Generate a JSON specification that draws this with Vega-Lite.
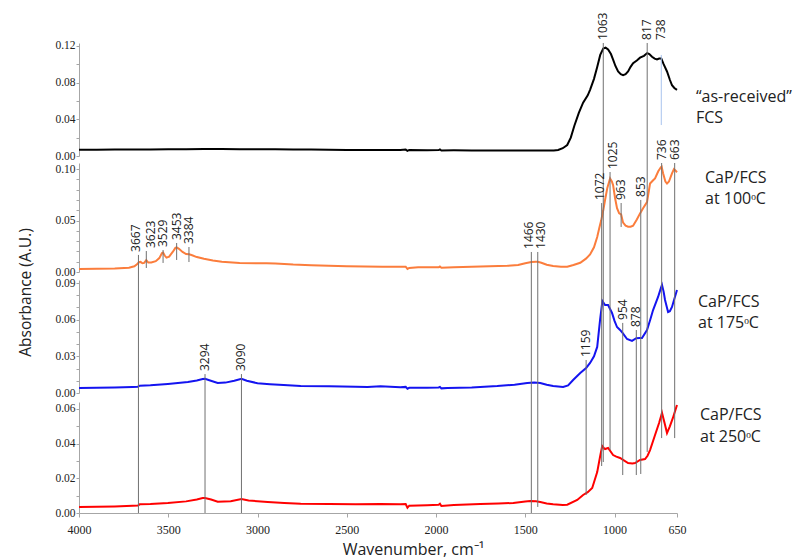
{
  "$schema": "https://vega.github.io/schema/vega-lite/v6.json",
  "width": 598,
  "height": 473,
  "autosize": "none",
  "padding": {"left": 79, "top": 40, "right": 131, "bottom": 45},
  "background": "white",
  "config": {
    "view": {"stroke": null},
    "font": "Open Sans",
    "axis": {
      "grid": false,
      "domainColor": "#a6a6a6",
      "tickColor": "#a6a6a6",
      "labelFont": "Liberation Sans Narrow",
      "labelFontSize": 12,
      "labelColor": "#222222",
      "labelOverlap": false,
      "labelFlush": false
    },
    "axisY": {"labelFontSize": 11.5}
  },
  "datasets": {
    "black": [
      {"wn":4000,"a":0.0068},{"wn":3900,"a":0.0069},{"wn":3800,"a":0.0070},{"wn":3700,"a":0.0071},{"wn":3600,"a":0.0072},{"wn":3500,"a":0.0073},{"wn":3400,"a":0.0074},{"wn":3300,"a":0.0075},{"wn":3200,"a":0.0075},{"wn":3100,"a":0.0074},{"wn":3000,"a":0.0074},{"wn":2900,"a":0.0073},{"wn":2800,"a":0.0072},{"wn":2700,"a":0.0070},{"wn":2600,"a":0.0068},{"wn":2500,"a":0.0066},{"wn":2400,"a":0.0065},{"wn":2300,"a":0.0064},{"wn":2200,"a":0.0066},{"wn":2170,"a":0.0070},{"wn":2160,"a":0.0056},{"wn":2150,"a":0.0066},{"wn":2050,"a":0.0063},{"wn":1985,"a":0.0064},{"wn":1978,"a":0.0071},{"wn":1970,"a":0.0060},{"wn":1900,"a":0.0062},{"wn":1800,"a":0.0061},{"wn":1700,"a":0.0061},{"wn":1600,"a":0.0060},{"wn":1500,"a":0.0060},{"wn":1400,"a":0.0060},{"wn":1340,"a":0.0061},{"wn":1316,"a":0.0066},{"wn":1290,"a":0.0085},{"wn":1265,"a":0.0120},{"wn":1245,"a":0.0200},{"wn":1225,"a":0.0330},{"wn":1200,"a":0.0470},{"wn":1176,"a":0.0580},{"wn":1150,"a":0.0660},{"wn":1137,"a":0.0720},{"wn":1115,"a":0.0840},{"wn":1097,"a":0.0970},{"wn":1080,"a":0.1100},{"wn":1063,"a":0.1170},{"wn":1050,"a":0.1180},{"wn":1036,"a":0.1160},{"wn":1020,"a":0.1110},{"wn":1008,"a":0.1050},{"wn":995,"a":0.0980},{"wn":980,"a":0.0920},{"wn":965,"a":0.0890},{"wn":952,"a":0.0880},{"wn":938,"a":0.0890},{"wn":924,"a":0.0920},{"wn":910,"a":0.0970},{"wn":896,"a":0.1010},{"wn":875,"a":0.1040},{"wn":857,"a":0.1070},{"wn":835,"a":0.1090},{"wn":817,"a":0.1120},{"wn":805,"a":0.1110},{"wn":790,"a":0.1080},{"wn":775,"a":0.1060},{"wn":762,"a":0.1050},{"wn":750,"a":0.1060},{"wn":738,"a":0.1060},{"wn":725,"a":0.1000},{"wn":706,"a":0.0920},{"wn":690,"a":0.0830},{"wn":678,"a":0.0770},{"wn":665,"a":0.0740},{"wn":650,"a":0.0720}
    ],
    "orange": [
      {"wn":4000,"a":0.0030},{"wn":3900,"a":0.0031},{"wn":3800,"a":0.0035},{"wn":3720,"a":0.0042},{"wn":3690,"a":0.0055},{"wn":3675,"a":0.0075},{"wn":3665,"a":0.0095},{"wn":3655,"a":0.0098},{"wn":3645,"a":0.0085},{"wn":3635,"a":0.0088},{"wn":3623,"a":0.0115},{"wn":3612,"a":0.0092},{"wn":3595,"a":0.0093},{"wn":3570,"a":0.0105},{"wn":3550,"a":0.0135},{"wn":3535,"a":0.0185},{"wn":3529,"a":0.0190},{"wn":3520,"a":0.0160},{"wn":3510,"a":0.0140},{"wn":3495,"a":0.0150},{"wn":3475,"a":0.0195},{"wn":3460,"a":0.0235},{"wn":3453,"a":0.0240},{"wn":3440,"a":0.0225},{"wn":3420,"a":0.0195},{"wn":3400,"a":0.0175},{"wn":3384,"a":0.0172},{"wn":3370,"a":0.0165},{"wn":3340,"a":0.0145},{"wn":3300,"a":0.0128},{"wn":3250,"a":0.0112},{"wn":3200,"a":0.0100},{"wn":3100,"a":0.0088},{"wn":3000,"a":0.0084},{"wn":2950,"a":0.0086},{"wn":2900,"a":0.0082},{"wn":2800,"a":0.0072},{"wn":2700,"a":0.0066},{"wn":2600,"a":0.0060},{"wn":2500,"a":0.0056},{"wn":2400,"a":0.0054},{"wn":2300,"a":0.0052},{"wn":2200,"a":0.0050},{"wn":2170,"a":0.0052},{"wn":2160,"a":0.0030},{"wn":2150,"a":0.0040},{"wn":2100,"a":0.0045},{"wn":1985,"a":0.0045},{"wn":1978,"a":0.0053},{"wn":1970,"a":0.0042},{"wn":1900,"a":0.0045},{"wn":1800,"a":0.0050},{"wn":1700,"a":0.0055},{"wn":1600,"a":0.0060},{"wn":1540,"a":0.0068},{"wn":1500,"a":0.0085},{"wn":1466,"a":0.0097},{"wn":1440,"a":0.0100},{"wn":1430,"a":0.0100},{"wn":1410,"a":0.0090},{"wn":1380,"a":0.0070},{"wn":1344,"a":0.0058},{"wn":1300,"a":0.0050},{"wn":1265,"a":0.0052},{"wn":1230,"a":0.0068},{"wn":1192,"a":0.0090},{"wn":1160,"a":0.0130},{"wn":1137,"a":0.0170},{"wn":1115,"a":0.0240},{"wn":1097,"a":0.0340},{"wn":1085,"a":0.0430},{"wn":1075,"a":0.0500},{"wn":1063,"a":0.0600},{"wn":1053,"a":0.0700},{"wn":1040,"a":0.0820},{"wn":1025,"a":0.0910},{"wn":1015,"a":0.0880},{"wn":1008,"a":0.0845},{"wn":997,"a":0.0720},{"wn":986,"a":0.0620},{"wn":974,"a":0.0570},{"wn":963,"a":0.0560},{"wn":952,"a":0.0480},{"wn":938,"a":0.0450},{"wn":924,"a":0.0440},{"wn":910,"a":0.0440},{"wn":896,"a":0.0450},{"wn":875,"a":0.0510},{"wn":857,"a":0.0570},{"wn":840,"a":0.0620},{"wn":818,"a":0.0680},{"wn":801,"a":0.0860},{"wn":785,"a":0.0890},{"wn":773,"a":0.0910},{"wn":755,"a":0.0980},{"wn":740,"a":0.1020},{"wn":736,"a":0.1025},{"wn":728,"a":0.0960},{"wn":715,"a":0.0880},{"wn":706,"a":0.0860},{"wn":695,"a":0.0880},{"wn":678,"a":0.0960},{"wn":667,"a":0.1000},{"wn":660,"a":0.0990},{"wn":650,"a":0.0970}
    ],
    "blue": [
      {"wn":4000,"a":0.0040},{"wn":3900,"a":0.0042},{"wn":3800,"a":0.0045},{"wn":3700,"a":0.0050},{"wn":3670,"a":0.0052},{"wn":3660,"a":0.0060},{"wn":3600,"a":0.0063},{"wn":3502,"a":0.0074},{"wn":3390,"a":0.0090},{"wn":3340,"a":0.0102},{"wn":3307,"a":0.0115},{"wn":3294,"a":0.0116},{"wn":3270,"a":0.0105},{"wn":3223,"a":0.0082},{"wn":3180,"a":0.0085},{"wn":3130,"a":0.0100},{"wn":3090,"a":0.0116},{"wn":3060,"a":0.0100},{"wn":3000,"a":0.0080},{"wn":2930,"a":0.0072},{"wn":2854,"a":0.0065},{"wn":2758,"a":0.0058},{"wn":2600,"a":0.0056},{"wn":2450,"a":0.0052},{"wn":2384,"a":0.0050},{"wn":2311,"a":0.0055},{"wn":2200,"a":0.0048},{"wn":2170,"a":0.0050},{"wn":2160,"a":0.0035},{"wn":2150,"a":0.0042},{"wn":2050,"a":0.0042},{"wn":1985,"a":0.0045},{"wn":1978,"a":0.0050},{"wn":1970,"a":0.0038},{"wn":1936,"a":0.0040},{"wn":1800,"a":0.0046},{"wn":1657,"a":0.0057},{"wn":1560,"a":0.0068},{"wn":1489,"a":0.0082},{"wn":1450,"a":0.0085},{"wn":1416,"a":0.0082},{"wn":1380,"a":0.0068},{"wn":1344,"a":0.0057},{"wn":1288,"a":0.0050},{"wn":1260,"a":0.0062},{"wn":1232,"a":0.0106},{"wn":1192,"a":0.0164},{"wn":1159,"a":0.0205},{"wn":1137,"a":0.0246},{"wn":1115,"a":0.0300},{"wn":1097,"a":0.0377},{"wn":1081,"a":0.0598},{"wn":1068,"a":0.0753},{"wn":1053,"a":0.0720},{"wn":1036,"a":0.0720},{"wn":1014,"a":0.0655},{"wn":1000,"a":0.0590},{"wn":986,"a":0.0540},{"wn":969,"a":0.0516},{"wn":954,"a":0.0490},{"wn":930,"a":0.0442},{"wn":902,"a":0.0426},{"wn":878,"a":0.0448},{"wn":860,"a":0.0450},{"wn":846,"a":0.0450},{"wn":818,"a":0.0516},{"wn":800,"a":0.0600},{"wn":784,"a":0.0679},{"wn":756,"a":0.0786},{"wn":740,"a":0.0860},{"wn":734,"a":0.0884},{"wn":725,"a":0.0830},{"wn":717,"a":0.0761},{"wn":700,"a":0.0663},{"wn":690,"a":0.0670},{"wn":678,"a":0.0704},{"wn":665,"a":0.0770},{"wn":650,"a":0.0843}
    ],
    "red": [
      {"wn":4000,"a":0.0035},{"wn":3900,"a":0.0036},{"wn":3800,"a":0.0038},{"wn":3700,"a":0.0042},{"wn":3670,"a":0.0043},{"wn":3660,"a":0.0050},{"wn":3600,"a":0.0052},{"wn":3502,"a":0.0058},{"wn":3400,"a":0.0067},{"wn":3340,"a":0.0078},{"wn":3307,"a":0.0086},{"wn":3294,"a":0.0087},{"wn":3260,"a":0.0078},{"wn":3223,"a":0.0065},{"wn":3150,"a":0.0068},{"wn":3090,"a":0.0081},{"wn":3050,"a":0.0072},{"wn":2943,"a":0.0063},{"wn":2850,"a":0.0057},{"wn":2758,"a":0.0053},{"wn":2600,"a":0.0052},{"wn":2450,"a":0.0050},{"wn":2311,"a":0.0052},{"wn":2200,"a":0.0050},{"wn":2170,"a":0.0052},{"wn":2160,"a":0.0030},{"wn":2150,"a":0.0042},{"wn":2050,"a":0.0045},{"wn":1985,"a":0.0047},{"wn":1978,"a":0.0053},{"wn":1970,"a":0.0040},{"wn":1900,"a":0.0046},{"wn":1752,"a":0.0052},{"wn":1650,"a":0.0055},{"wn":1567,"a":0.0058},{"wn":1500,"a":0.0066},{"wn":1472,"a":0.0069},{"wn":1440,"a":0.0068},{"wn":1416,"a":0.0063},{"wn":1380,"a":0.0055},{"wn":1344,"a":0.0050},{"wn":1290,"a":0.0046},{"wn":1265,"a":0.0048},{"wn":1209,"a":0.0075},{"wn":1176,"a":0.0104},{"wn":1150,"a":0.0120},{"wn":1125,"a":0.0144},{"wn":1097,"a":0.0236},{"wn":1080,"a":0.0330},{"wn":1069,"a":0.0386},{"wn":1060,"a":0.0375},{"wn":1053,"a":0.0369},{"wn":1036,"a":0.0375},{"wn":1008,"a":0.0334},{"wn":990,"a":0.0325},{"wn":969,"a":0.0317},{"wn":950,"a":0.0305},{"wn":924,"a":0.0288},{"wn":900,"a":0.0286},{"wn":885,"a":0.0288},{"wn":857,"a":0.0306},{"wn":829,"a":0.0311},{"wn":815,"a":0.0330},{"wn":801,"a":0.0363},{"wn":773,"a":0.0450},{"wn":750,"a":0.0520},{"wn":734,"a":0.0577},{"wn":720,"a":0.0520},{"wn":706,"a":0.0461},{"wn":690,"a":0.0500},{"wn":673,"a":0.0548},{"wn":660,"a":0.0590},{"wn":650,"a":0.0623}
    ],
    "peaks1": [{"wn":738,"top":0.110,"bottom":0.0337,"labelAt":0.123}],
    "peaks2": [
      {"wn":3623,"top":0.0204,"bottom":0.0039},
      {"wn":3529,"top":0.0214,"bottom":0.0088},
      {"wn":3453,"top":0.0282,"bottom":0.0117},
      {"wn":3384,"top":0.0243,"bottom":0.0097},
      {"wn":963,"top":0.0671,"bottom":0.0438}
    ],
    "peaks4": [
      {"wn":3667,"top":0.1488,"bottom":0},
      {"wn":3294,"top":0.0801,"bottom":0},
      {"wn":3090,"top":0.0801,"bottom":0},
      {"wn":1466,"top":0.1505,"bottom":0},
      {"wn":1430,"top":0.1505,"bottom":0.0035},
      {"wn":1159,"top":0.0882,"bottom":0.0104},
      {"wn":1072,"top":0.1787,"bottom":0.0271},
      {"wn":1063,"top":0.2710,"bottom":0.0294},
      {"wn":1025,"top":0.1966,"bottom":0.0363},
      {"wn":954,"top":0.1096,"bottom":0.0219},
      {"wn":878,"top":0.1055,"bottom":0.0219},
      {"wn":853,"top":0.1805,"bottom":0.0225},
      {"wn":817,"top":0.2710,"bottom":0.0352},
      {"wn":736,"top":0.2018,"bottom":0.0432},
      {"wn":663,"top":0.2018,"bottom":0.0432}
    ]
  },
  "layer": [
    {
      "layer": [
        {
          "data": {"name": "black"},
          "mark": {"type": "line", "color": "#000000", "strokeWidth": 2},
          "encoding": {
            "x": {"field": "wn", "type": "quantitative", "scale": {"domain": [650, 4000], "reverse": true, "nice": false, "zero": false}},
            "y": {"field": "a", "type": "quantitative", "scale": {"domain": [0, 0.123], "range": [116, 3], "nice": false, "zero": false},
              "axis": {"orient": "left", "title": null, "tickSize": 3, "labelPadding": 1,
                "values": [0,0.01,0.02,0.03,0.04,0.05,0.06,0.07,0.08,0.09,0.1,0.11,0.12],
                "labelExpr": "indexof([0,0.04,0.08,0.12], datum.value) >= 0 ? format(datum.value, '.2f') : ''"}}
          }
        },
        {
          "data": {"name": "peaks1"},
          "mark": {"type": "rule", "color": "#a9c4ee", "strokeWidth": 1},
          "encoding": {
            "x": {"field": "wn", "type": "quantitative"},
            "y": {"field": "top", "type": "quantitative"},
            "y2": {"field": "bottom"}
          }
        },
        {
          "data": {"name": "peaks1"},
          "mark": {"type": "text", "angle": 270, "align": "left", "baseline": "middle", "dx": 3, "font": "Open Sans", "fontSize": 12, "color": "#222222"},
          "encoding": {
            "x": {"field": "wn", "type": "quantitative"},
            "y": {"field": "labelAt", "type": "quantitative"},
            "text": {"field": "wn", "type": "quantitative", "format": "d"}
          }
        },
        {
          "data": {"values": [{}]},
          "mark": {"type": "text", "align": "left", "baseline": "middle", "dx": 19, "font": "Open Sans", "fontSize": 16, "lineHeight": 21, "color": "#222222"},
          "encoding": {
            "x": {"datum": 650, "type": "quantitative"},
            "y": {"datum": 0.0642, "type": "quantitative"},
            "text": {"value": ["“as-received”", "FCS"]}
          }
        }
      ]
    },
    {
      "layer": [
        {
          "data": {"name": "orange"},
          "mark": {"type": "line", "color": "#fb7d3c", "strokeWidth": 2},
          "encoding": {
            "x": {"field": "wn", "type": "quantitative"},
            "y": {"field": "a", "type": "quantitative", "scale": {"domain": [0, 0.106], "range": [232, 123], "nice": false, "zero": false},
              "axis": {"orient": "left", "title": null, "tickSize": 3, "labelPadding": 1,
                "values": [0,0.01,0.02,0.03,0.04,0.05,0.06,0.07,0.08,0.09,0.1],
                "labelExpr": "indexof([0,0.05,0.1], datum.value) >= 0 ? format(datum.value, '.2f') : ''"}}
          }
        },
        {
          "data": {"name": "peaks2"},
          "mark": {"type": "rule", "color": "#707070", "strokeWidth": 1},
          "encoding": {
            "x": {"field": "wn", "type": "quantitative"},
            "y": {"field": "top", "type": "quantitative"},
            "y2": {"field": "bottom"}
          }
        },
        {
          "data": {"name": "peaks2"},
          "transform": [{"filter": {"not": {"field": "wn", "oneOf": [3623]}}}],
          "mark": {"type": "text", "angle": 270, "align": "left", "baseline": "middle", "dx": 3, "font": "Open Sans", "fontSize": 12, "color": "#222222"},
          "encoding": {
            "x": {"field": "wn", "type": "quantitative"},
            "y": {"field": "top", "type": "quantitative"},
            "text": {"field": "wn", "type": "quantitative", "format": "d"}
          }
        },
        {
          "data": {"name": "peaks2"},
          "transform": [{"filter": {"field": "wn", "oneOf": [3623]}}],
          "mark": {"type": "text", "angle": 270, "align": "left", "baseline": "middle", "dx": 3, "dy": 5, "font": "Open Sans", "fontSize": 12, "color": "#222222"},
          "encoding": {
            "x": {"field": "wn", "type": "quantitative"},
            "y": {"field": "top", "type": "quantitative"},
            "text": {"field": "wn", "type": "quantitative", "format": "d"}
          }
        },
        {
          "data": {"values": [{}]},
          "mark": {"type": "text", "align": "left", "baseline": "middle", "dx": 28, "font": "Open Sans", "fontSize": 16, "lineHeight": 21, "color": "#222222"},
          "encoding": {
            "x": {"datum": 650, "type": "quantitative"},
            "y": {"datum": 0.0914, "type": "quantitative"},
            "text": {"value": ["CaP/FCS", "at 100ᵒC"]}
          }
        }
      ]
    },
    {
      "layer": [
        {
          "data": {"name": "blue"},
          "mark": {"type": "line", "color": "#1414f0", "strokeWidth": 2},
          "encoding": {
            "x": {"field": "wn", "type": "quantitative"},
            "y": {"field": "a", "type": "quantitative", "scale": {"domain": [0, 0.0925], "range": [353, 240], "nice": false, "zero": false},
              "axis": {"orient": "left", "title": "Absorbance (A.U.)", "titleFont": "Open Sans", "titleFontSize": 15.5, "titleFontWeight": "normal", "titleColor": "#222222",
                "titleX": -54, "titleY": 252, "titleAngle": 270, "titleAlign": "center", "titleBaseline": "middle",
                "tickSize": 3, "labelPadding": 1,
                "values": [0,0.01,0.02,0.03,0.04,0.05,0.06,0.07,0.08,0.09],
                "labelExpr": "indexof([0,0.03,0.06,0.09], datum.value) >= 0 ? format(datum.value, '.2f') : ''"}}
          }
        },
        {
          "data": {"values": [{}]},
          "mark": {"type": "text", "align": "left", "baseline": "middle", "dx": 21, "font": "Open Sans", "fontSize": 16, "lineHeight": 21, "color": "#222222"},
          "encoding": {
            "x": {"datum": 650, "type": "quantitative"},
            "y": {"datum": 0.0745, "type": "quantitative"},
            "text": {"value": ["CaP/FCS", "at 175ᵒC"]}
          }
        }
      ]
    },
    {
      "layer": [
        {
          "data": {"name": "red"},
          "mark": {"type": "line", "color": "#ff0000", "strokeWidth": 2},
          "encoding": {
            "x": {"field": "wn", "type": "quantitative",
              "axis": {"orient": "bottom", "values": [4000,3500,3000,2500,2000,1500,1000,650], "format": "d", "tickSize": 4, "labelPadding": 7,
                "title": "Wavenumber, cm⁻¹", "titleFont": "Open Sans", "titleFontSize": 16, "titleFontWeight": "normal", "titleColor": "#222222",
                "titleX": 334, "titleY": 36, "titleAlign": "center", "titleBaseline": "middle"}},
            "y": {"field": "a", "type": "quantitative", "scale": {"domain": [0, 0.064], "range": [473, 362], "nice": false, "zero": false},
              "axis": {"orient": "left", "title": null, "tickSize": 3, "labelPadding": 1,
                "values": [0,0.005,0.01,0.015,0.02,0.025,0.03,0.035,0.04,0.045,0.05,0.055,0.06],
                "labelExpr": "indexof([0,0.02,0.04,0.06], datum.value) >= 0 ? format(datum.value, '.2f') : ''"}}
          }
        },
        {
          "data": {"name": "peaks4"},
          "mark": {"type": "rule", "color": "#707070", "strokeWidth": 1},
          "encoding": {
            "x": {"field": "wn", "type": "quantitative"},
            "y": {"field": "top", "type": "quantitative"},
            "y2": {"field": "bottom"}
          }
        },
        {
          "data": {"name": "peaks4"},
          "transform": [{"filter": {"not": {"field": "wn", "oneOf": [3667, 1466, 1430, 1072, 1025]}}}],
          "mark": {"type": "text", "angle": 270, "align": "left", "baseline": "middle", "dx": 3, "font": "Open Sans", "fontSize": 12, "color": "#222222"},
          "encoding": {
            "x": {"field": "wn", "type": "quantitative"},
            "y": {"field": "top", "type": "quantitative"},
            "text": {"field": "wn", "type": "quantitative", "format": "d"}
          }
        },
        {
          "data": {"name": "peaks4"},
          "transform": [{"filter": {"field": "wn", "oneOf": [3667, 1466, 1072]}}],
          "mark": {"type": "text", "angle": 270, "align": "left", "baseline": "middle", "dx": 3, "dy": -2, "font": "Open Sans", "fontSize": 12, "color": "#222222"},
          "encoding": {
            "x": {"field": "wn", "type": "quantitative"},
            "y": {"field": "top", "type": "quantitative"},
            "text": {"field": "wn", "type": "quantitative", "format": "d"}
          }
        },
        {
          "data": {"name": "peaks4"},
          "transform": [{"filter": {"field": "wn", "oneOf": [1430, 1025]}}],
          "mark": {"type": "text", "angle": 270, "align": "left", "baseline": "middle", "dx": 3, "dy": 3, "font": "Open Sans", "fontSize": 12, "color": "#222222"},
          "encoding": {
            "x": {"field": "wn", "type": "quantitative"},
            "y": {"field": "top", "type": "quantitative"},
            "text": {"field": "wn", "type": "quantitative", "format": "d"}
          }
        },
        {
          "data": {"values": [{}]},
          "mark": {"type": "text", "align": "left", "baseline": "middle", "dx": 23, "font": "Open Sans", "fontSize": 16, "lineHeight": 22, "color": "#222222"},
          "encoding": {
            "x": {"datum": 650, "type": "quantitative"},
            "y": {"datum": 0.0565, "type": "quantitative"},
            "text": {"value": ["CaP/FCS", "at 250ᵒC"]}
          }
        }
      ]
    }
  ],
  "resolve": {"scale": {"y": "independent"}, "axis": {"y": "independent"}}
}
